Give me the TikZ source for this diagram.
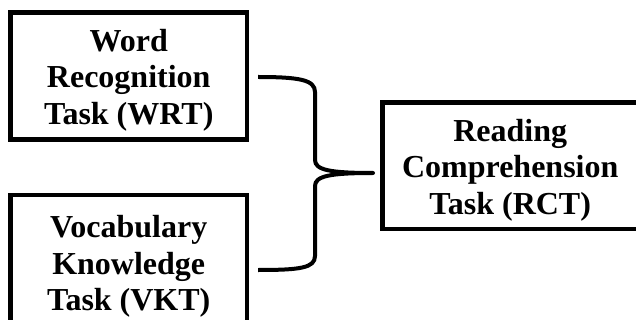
\documentclass[tikz,border=0pt]{standalone}
\usepackage{fontspec}
\setmainfont{Liberation Serif}
\usepackage{tikz}
\usetikzlibrary{calc}

\tikzset{
    task box/.style={
        draw,
        align=center,
        font=\fontsize{16}{18.25}\selectfont\bfseries,
        inner sep=0pt,
        text height=51.5pt,
        text depth=3pt,
        line width=2.25pt,
        minimum width=118.25pt,
        minimum height=63.5pt
    },
    task brace/.style={line width=2pt, line join=round}
}

\begin{document}
\begin{tikzpicture}[x=0.5pt, y=-0.5pt]
    \clip (0,0) rectangle (636,320);

    \node[task box] (wrt) at (128.75,76) {Word\\Recognition\\Task (WRT)};
    \node[task box, minimum height=66.75pt] (vkt) at (128.75,262) {Vocabulary\\Knowledge\\Task (VKT)};
    \node[task box, minimum width=127.75pt, minimum height=63.25pt] (rct) at (510.25,165.75) {Reading\\Comprehension\\Task (RCT)};

    % brace joining the two tasks
    \coordinate (brace top) at (258,77);
    \coordinate (brace tip) at (373,173);
    \coordinate (brace bottom) at (258,270);
    \draw[task brace] (brace top)
        .. controls (300,77) and (315,80) .. (315,92)
        -- (315,160)
        .. controls (315,170) and (330,173) .. (brace tip)
        .. controls (330,173) and (315,176) .. (315,186)
        -- (315,256)
        .. controls (315,268) and (300,270) .. (brace bottom);
\end{tikzpicture}
\end{document}
